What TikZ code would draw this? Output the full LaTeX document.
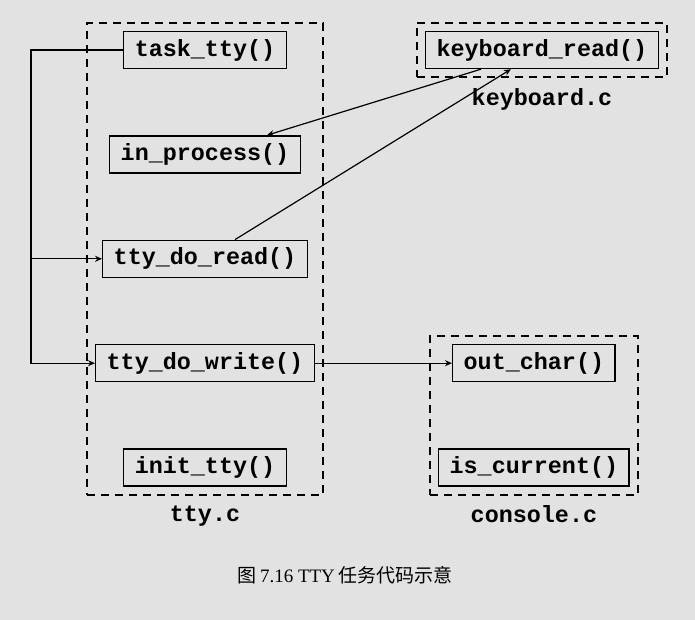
\documentclass[tikz,border=0pt]{standalone}
\usepackage{fontspec}
\setmainfont{Liberation Serif}
\setmonofont{Liberation Mono}
\newfontfamily\cjk{Noto Sans CJK SC}
\usetikzlibrary{arrows.meta, positioning, calc, fit, backgrounds}
\definecolor{cPaper}{RGB}{226,226,226}
\newcommand{\codefont}{\fontsize{11.7}{13}\selectfont\ttfamily\bfseries}
\tikzset{
	func/.style   ={rectangle, draw=black, line width=0.7pt, minimum height=18.5pt, inner xsep=5.5pt, inner ysep=0pt, font=\codefont},
	module/.style ={rectangle, draw=black, line width=0.8pt, dash pattern=on 4pt off 3pt, inner sep=4pt},
	modname/.style={font=\codefont, inner sep=0pt},
	call/.style   ={-{Stealth[length=3.5pt, width=3pt]}, line width=0.6pt},
}

\begin{document}
\begin{tikzpicture}[x=0.5pt, y=-0.5pt, node distance=33pt]
	\fill[cPaper] (0,0) rectangle (695,620);
	% tty.c
	\node[func] (task) at (205,50) {task\_tty()};
	\node[func, below=of task] (inproc) {in\_process()};
	\node[func, below=of inproc] (read) {tty\_do\_read()};
	\node[func, below=of read] (write) {tty\_do\_write()};
	\node[func, below=of write] (init) {init\_tty()};
	\node[module, fit=(task) (inproc) (read) (write) (init)] (ttybox) {};
	\node[modname, below=5pt of ttybox] (ttyname) {tty.c};
	% keyboard.c
	\node[func, right=69pt of task] (kbd) {keyboard\_read()};
	\node[module, fit=(kbd)] (kbdbox) {};
	\node[modname, below=5pt of kbdbox] (kbdname) {keyboard.c};
	% console.c
	\node[func, right=68.5pt of write] (outc) {out\_char()};
	\node[func, below=of outc] (iscur) {is\_current()};
	\node[module, fit=(outc) (iscur)] (conbox) {};
	\node[modname, below=5pt of conbox] (conname) {console.c};
	% calls
	\coordinate (bus) at ($(task.west)+(-92,0)$);
	\draw[call] (task.west) -- (bus) |- (write.west);
	\draw[call] (bus |- read.west) -- (read.west);
	\draw[call] ($(kbd.south)+(-61,0)$) -- ($(inproc.north)+(62,0)$);
	\draw[call] ($(read.north)+(30,0)$) -- ($(kbd.south)+(-31,0)$);
	\draw[call] (write.east) -- (outc.west);
	% caption
	\node[font=\fontsize{9.5}{11}\selectfont] (caption) at (345,575) {{\cjk 图}\,7.16 TTY\,{\cjk 任务代码示意}};
\end{tikzpicture}
\end{document}
